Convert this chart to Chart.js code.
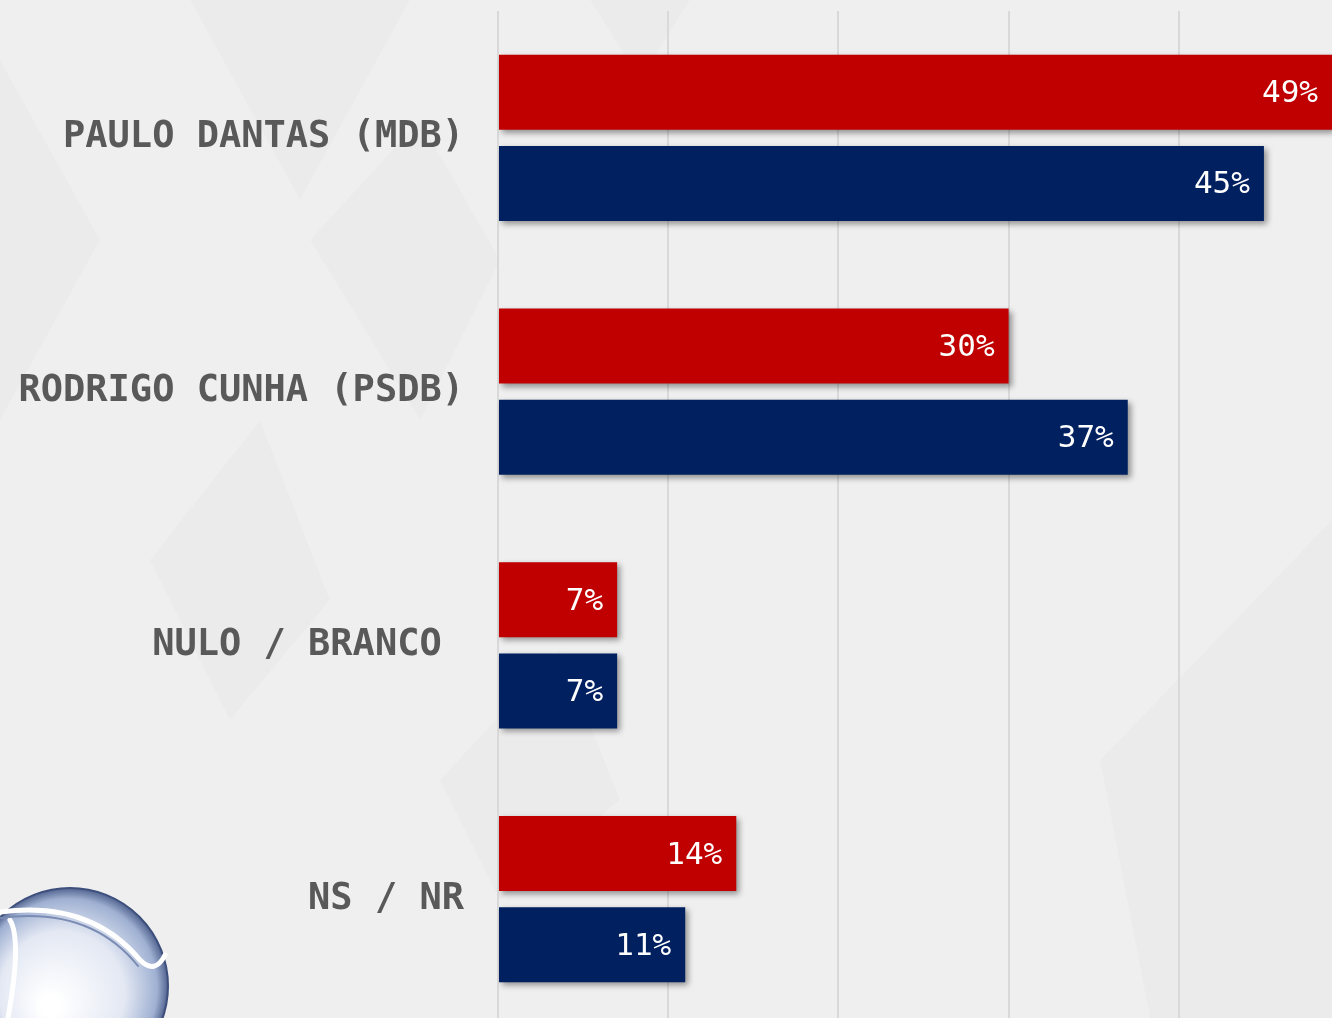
<!DOCTYPE html>
<html>
<head>
<meta charset="utf-8">
<script src="https://cdn.jsdelivr.net/npm/chart.js@4/dist/chart.umd.min.js"></script>
<style>
  html,body{margin:0;padding:0;overflow:hidden;background:#efefef;}
  #wrap{position:absolute;left:0;top:0;width:1332px;height:1026px;}
</style>
</head>
<body>
<div id="wrap"><canvas id="c" width="1332" height="1026"></canvas></div>
<script>
const categories = ['PAULO DANTAS (MDB)', 'RODRIGO CUNHA (PSDB)', 'NULO / BRANCO ', 'NS / NR'];
const seriesRed = [49, 30, 7, 14];
const seriesBlue = [45, 37, 7, 11];
const tickValues = [0, 10, 20, 30, 40];

const bgPlugin = {
  id: 'bg',
  beforeDraw(chart) {
    const ctx = chart.ctx;
    ctx.save();
    ctx.fillStyle = '#efefef';
    ctx.fillRect(0, 0, chart.width, chart.height);
    ctx.fillStyle = 'rgba(0,0,0,0.015)';
    const polys = [
      [[0,60],[100,240],[0,420]],
      [[190,0],[410,0],[300,200]],
      [[310,240],[420,120],[500,260],[420,420]],
      [[590,0],[690,0],[640,80]],
      [[150,560],[260,420],[330,600],[230,720]],
      [[1100,760],[1332,520],[1332,1018],[1150,1018]],
      [[440,780],[560,650],[620,800],[500,900]]
    ];
    for (const p of polys) {
      ctx.beginPath();
      ctx.moveTo(p[0][0], p[0][1]);
      for (let i = 1; i < p.length; i++) ctx.lineTo(p[i][0], p[i][1]);
      ctx.closePath();
      ctx.fill();
    }
    ctx.restore();
  }
};

const shadowPlugin = {
  id: 'shadow',
  beforeDatasetsDraw(chart) {
    const ctx = chart.ctx;
    ctx.save();
    ctx.shadowColor = 'rgba(0,0,0,0.4)';
    ctx.shadowBlur = 6;
    ctx.shadowOffsetX = 3;
    ctx.shadowOffsetY = 3;
  },
  afterDatasetsDraw(chart) {
    const ctx = chart.ctx;
    ctx.restore();
    ctx.save();
    ctx.fillStyle = '#ffffff';
    ctx.font = '31px "DejaVu Sans Mono", monospace';
    ctx.textAlign = 'right';
    ctx.textBaseline = 'middle';
    chart.data.datasets.forEach((ds, di) => {
      const meta = chart.getDatasetMeta(di);
      meta.data.forEach((bar, i) => {
        const x = Math.min(bar.x, chart.chartArea.right);
        ctx.fillText(ds.data[i] + '%', x - 14, bar.y + 2);
      });
    });
    ctx.restore();
  },
  afterDraw(chart) {
    const ctx = chart.ctx;
    const cx = 70, cy = 986, r = 98;
    ctx.save();
    const g = ctx.createRadialGradient(cx - 20, cy + 20, 10, cx, cy, r);
    g.addColorStop(0, '#ffffff');
    g.addColorStop(0.6, '#e3e8f3');
    g.addColorStop(0.9, '#9fb0d2');
    g.addColorStop(1, '#52648f');
    ctx.beginPath();
    ctx.arc(cx, cy, r, 0, Math.PI * 2);
    ctx.fillStyle = g;
    ctx.fill();
    ctx.lineWidth = 2;
    ctx.strokeStyle = '#3d4f7c';
    ctx.stroke();
    ctx.lineCap = 'round';
    ctx.strokeStyle = '#ffffff';
    ctx.lineWidth = 5;
    ctx.beginPath();
    ctx.moveTo(0, 912);
    ctx.quadraticCurveTo(90, 900, 140, 960);
    ctx.quadraticCurveTo(155, 975, 165, 955);
    ctx.stroke();
    ctx.beginPath();
    ctx.moveTo(10, 920);
    ctx.quadraticCurveTo(22, 940, 8, 1018);
    ctx.stroke();
    ctx.strokeStyle = '#7a8bb4';
    ctx.lineWidth = 2;
    ctx.beginPath();
    ctx.moveTo(0, 918);
    ctx.quadraticCurveTo(90, 906, 138, 966);
    ctx.stroke();
    ctx.restore();
  }
};

new Chart(document.getElementById('c'), {
  type: 'bar',
  data: {
    labels: categories,
    datasets: [
      { data: seriesRed, backgroundColor: '#c00000', categoryPercentage: 0.718, barPercentage: 0.824 },
      { data: seriesBlue, backgroundColor: '#002060', categoryPercentage: 0.718, barPercentage: 0.824 }
    ]
  },
  options: {
    indexAxis: 'y',
    responsive: false,
    animation: false,
    layout: { padding: { top: 11, bottom: 0, left: 0, right: 0 } },
    plugins: { legend: { display: false }, tooltip: { enabled: false } },
    scales: {
      x: {
        min: 0,
        max: 49,
        afterBuildTicks(scale) { scale.ticks = tickValues.map(v => ({ value: v })); },
        afterFit(scale) { scale.height = 0; scale.paddingLeft = 0; scale.paddingRight = 0; },
        ticks: { display: false },
        border: { display: false },
        grid: { color: '#d9d9d9', lineWidth: 2, drawTicks: false }
      },
      y: {
        afterFit(scale) { scale.width = 498; scale.paddingTop = 0; scale.paddingBottom = 0; },
        grid: { display: false, drawTicks: false },
        border: { display: false },
        ticks: {
          color: '#595959',
          padding: 34,
          font: { family: '"DejaVu Sans Mono", monospace', size: 37, weight: 'bold' }
        }
      }
    }
  },
  plugins: [bgPlugin, shadowPlugin]
});
</script>
</body>
</html>
